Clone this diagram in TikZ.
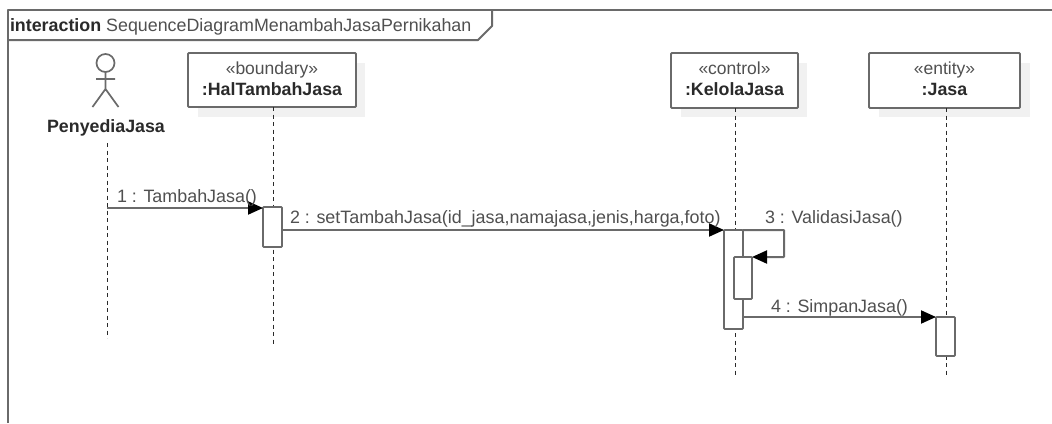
\documentclass[tikz,border=0pt]{standalone}
\usepackage{fontspec}
\setmainfont{Liberation Sans}
\usetikzlibrary{arrows.meta,calc}
\definecolor{ln}{HTML}{6A6A6A}
\definecolor{tx}{HTML}{505050}
\definecolor{bk}{HTML}{2A2A2A}
\definecolor{sh}{HTML}{F1F1F1}
\tikzset{
  x=1pt,y=-1pt,
  base/.style={inner sep=0pt,outer sep=0pt},
  lifebox/.style={base,draw=ln,line width=1.8pt,fill=white,rounded corners=1pt},
  boxtext/.style={base,anchor=base,text=bk,font=\fontsize{17.8}{20}\selectfont\bfseries},
  sttext/.style={base,anchor=base,text=tx,font=\fontsize{17.5}{20}\selectfont},
  shade/.style={fill=sh,draw=none},
  life/.style={draw=bk,line width=1pt,dash pattern=on 4pt off 3.5pt},
  act/.style={base,draw=ln,line width=1.8pt,fill=white,rounded corners=0.8pt,minimum width=19pt},
  msg/.style={draw=ln,line width=2pt,-{Triangle[length=15pt,width=13pt,color=black]}},
  lab/.style={base,anchor=base west,text=tx,font=\fontsize{17.9}{20}\selectfont},
}
\begin{document}
\begin{tikzpicture}
\useasboundingbox (0,0) rectangle (1052,423);
\fill[white] (0,0) rectangle (1052,423);
% frame
\draw[ln,line width=2pt,line join=round] (7.5,423) -- (7.5,9.5) -- (1052,9.5);
\draw[ln,line width=2pt,line join=round] (7.5,40) -- (478,40) -- (492,26) -- (492,9.5);
\node[base,anchor=base west,font=\fontsize{17.85}{20}\selectfont,text=bk] (title) at (10,31) {\textbf{interaction} \textcolor{tx}{SequenceDiagramMenambahJasaPernikahan}};
% shadows
\fill[shade] (198,63) rectangle (365,117);
\fill[shade] (681,63) rectangle (807,117);
\fill[shade] (879,63) rectangle (1030,117);
% actor
\node[base,draw=ln,line width=1.7pt,circle,minimum size=18pt] (head) at (105.5,63) {};
\coordinate (armL) at (96,79);
\coordinate (armR) at (115,79);
\coordinate (hip) at (105.5,89);
\coordinate (legL) at (92.5,107);
\coordinate (legR) at (118.5,107);
\draw[ln,line width=1.7pt] (head.south) -- (hip) (armL) -- (armR) (legL) -- (hip) -- (legR);
\node[base,anchor=base,font=\fontsize{17.8}{20}\selectfont\bfseries,text=bk] (actor) at (106,132) {PenyediaJasa};
% boxes
\node[lifebox,minimum width=168pt,minimum height=54pt] (hal) at (272,80) {};
\node[lifebox,minimum width=127pt,minimum height=55pt] (kel) at (734.5,80.5) {};
\node[lifebox,minimum width=151pt,minimum height=55pt] (jasa) at (944.5,80.5) {};
\node[sttext] (hal1) at (272,74) {«boundary»};
\node[boxtext] (hal2) at (272,95) {:HalTambahJasa};
\node[sttext] (kel1) at (734.5,74) {«control»};
\node[boxtext] (kel2) at (734.5,95) {:KelolaJasa};
\node[sttext] (jasa1) at (944.5,74) {«entity»};
\node[boxtext] (jasa2) at (944.5,95) {:Jasa};
% lifelines
\coordinate (actS) at (107.5,143);
\coordinate (actE) at (107.5,338);
\coordinate (halS) at (273.5,107);
\coordinate (halE) at (273.5,345);
\coordinate (kelS) at (735.5,108);
\coordinate (kelE) at (735.5,375);
\coordinate (jasS) at (946.5,108);
\coordinate (jasE) at (946.5,375);
\draw[life] (actS) -- (actE);
\draw[life] (halS) -- (halE);
\draw[life] (kelS) -- (kelE);
\draw[life] (jasS) -- (jasE);
% activations
\node[act,minimum height=40pt] (a1) at (272.5,227) {};
\node[act,minimum height=99pt] (a2) at (733.5,279.5) {};
\node[act,minimum width=18pt,minimum height=42pt] (a3) at (743,278) {};
\node[act,minimum height=39pt] (a4) at (945.5,336.5) {};
% messages
\coordinate (m1s) at (107,208);
\coordinate (sc) at (784,230);
\coordinate (sd) at (784,257);
\draw[msg] (m1s) -- (a1.north west |- m1s);
\draw[msg] (a1.east |- 0,230) -- (a2.north west);
\draw[msg,rounded corners=0.5pt] (a2.north east) -- (sc) -- (sd) -- (a3.north east);
\draw[msg] (a2.east |- 0,317) -- (a4.north west);
% labels
\node[lab] (l1) at (117,202) {1 : TambahJasa()};
\node[lab] (l2) at (290,223) {2 : setTambahJasa(id\_jasa,namajasa,jenis,harga,foto)};
\node[lab] (l3) at (765,223) {3 : ValidasiJasa()};
\node[lab] (l4) at (771,312) {4 : SimpanJasa()};
\end{tikzpicture}
\end{document}
